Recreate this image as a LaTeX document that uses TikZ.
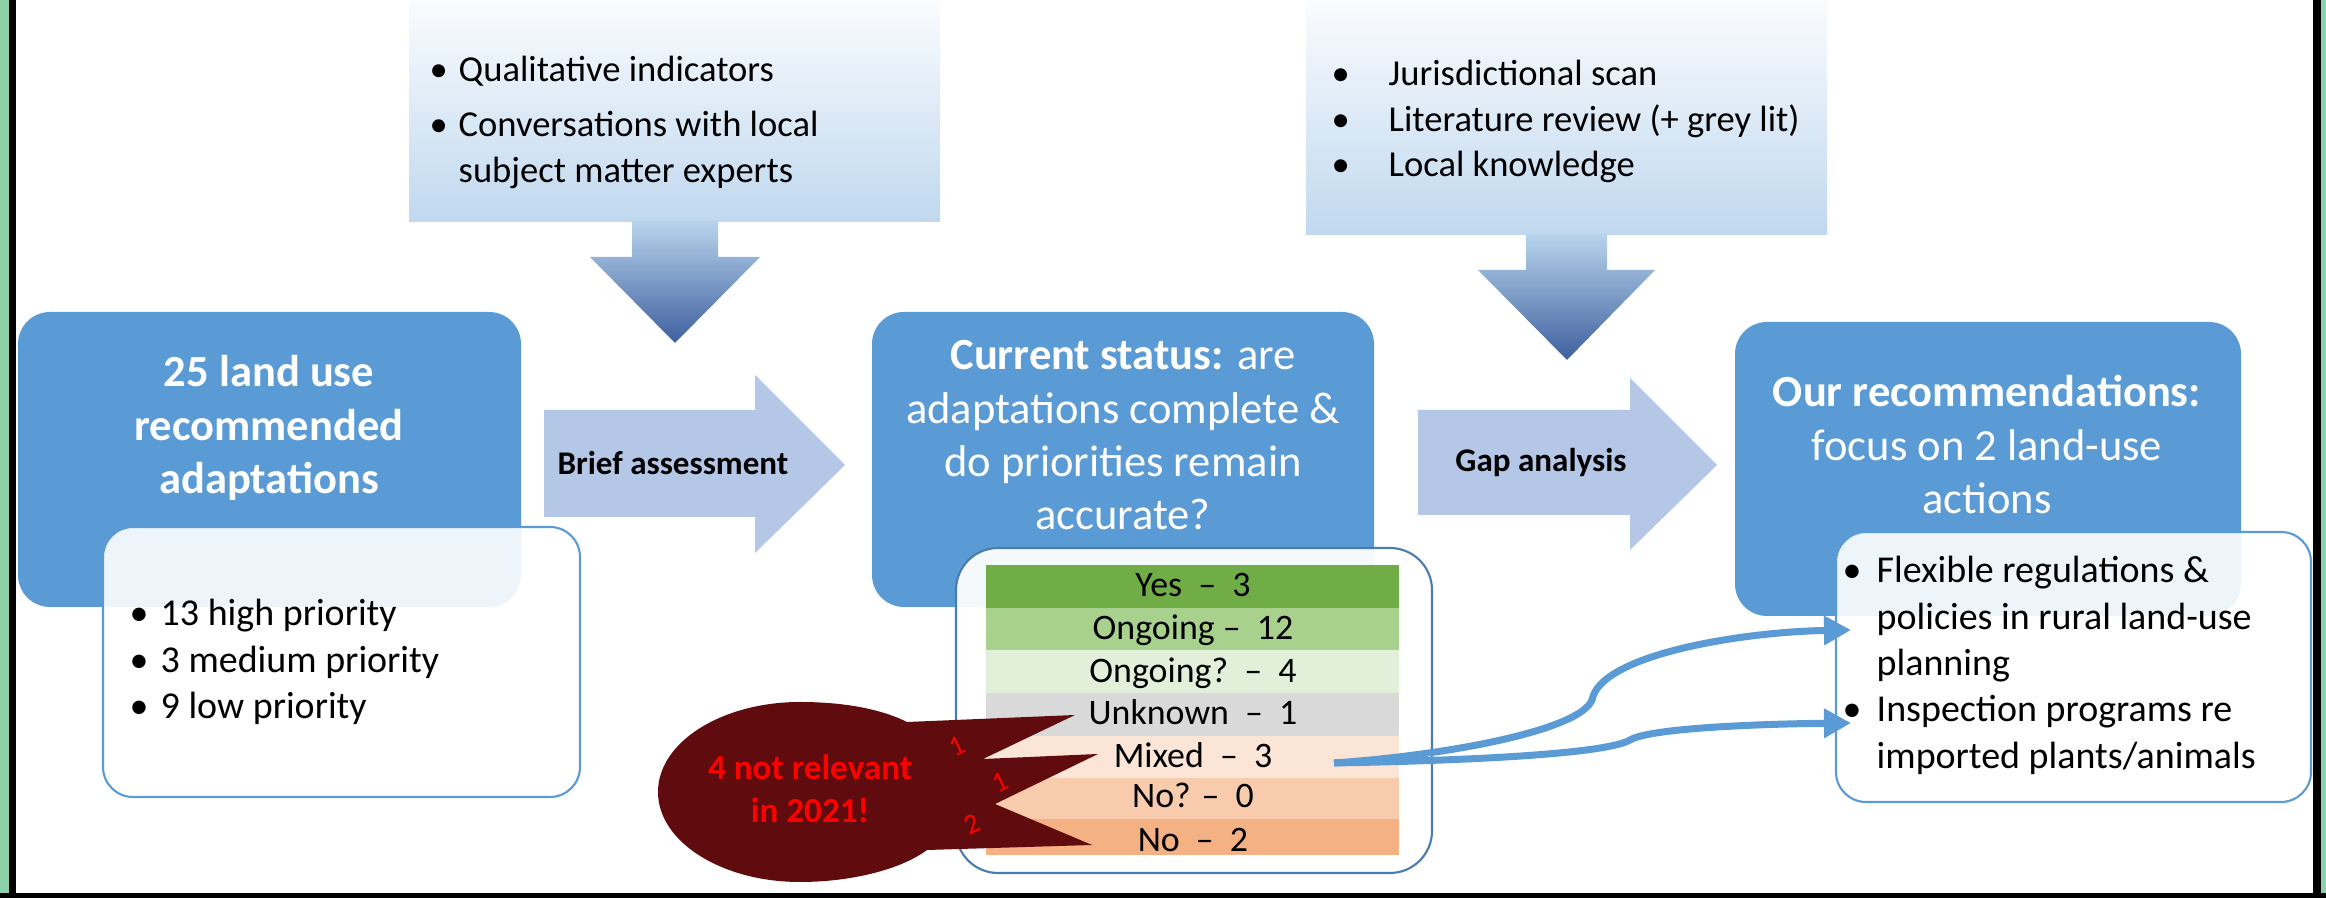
\documentclass[tikz,border=0pt]{standalone}
\usepackage{fontspec}
\setmainfont{Carlito}
\usetikzlibrary{arrows.meta}
\definecolor{frameg}{RGB}{141,209,168}
\definecolor{boxblue}{RGB}{91,155,213}
\definecolor{arrblue}{RGB}{180,199,231}
\definecolor{edgeblue}{RGB}{91,155,213}
\definecolor{edgedark}{RGB}{74,124,176}
\definecolor{topwhite}{RGB}{250,252,254}
\definecolor{toplight}{RGB}{192,216,239}
\definecolor{shaftblue}{RGB}{184,212,237}
\definecolor{tipblue}{RGB}{62,96,158}
\definecolor{cyes}{RGB}{112,173,71}
\definecolor{congo}{RGB}{169,209,142}
\definecolor{congoq}{RGB}{226,240,217}
\definecolor{cunk}{RGB}{217,217,217}
\definecolor{cmix}{RGB}{251,229,214}
\definecolor{cnoq}{RGB}{248,203,173}
\definecolor{cno}{RGB}{244,177,131}
\definecolor{calloutred}{RGB}{96,11,13}
\newcommand\dgap{\hspace{0.45em}}
\begin{document}
\begin{tikzpicture}[x=0.01cm,y=-0.01cm,
  bluebox/.style={fill=boxblue, rounded corners=0.32cm},
  whitebox/.style={draw=edgeblue, line width=0.6pt, fill=white, fill opacity=0.9, rounded corners=0.3cm},
  rightarrow/.style={fill=arrblue},
  titletxt/.style={text=white, font=\fontsize{12.66pt}{15.1pt}\selectfont, inner sep=0pt, anchor=base},
  bodytxt/.style={text=black, font=\fontsize{10.8pt}{13.2pt}\selectfont, inner sep=0pt, anchor=base west},
  toptxt/.style={text=black, font=\fontsize{10.4pt}{13pt}\selectfont, inner sep=0pt, anchor=base west},
  labeltxt/.style={text=black, font=\fontsize{9.4pt}{11pt}\selectfont\bfseries, inner sep=0pt, anchor=base},
  rowtxt/.style={text=black, font=\fontsize{10.2pt}{12pt}\selectfont, inner sep=0pt, anchor=base},
  callouttxt/.style={text=red, font=\fontsize{10pt}{12.2pt}\selectfont\bfseries, inner sep=0pt, anchor=base},
  numtxt/.style={text=red, font=\fontsize{8pt}{9pt}\selectfont, inner sep=0pt, rotate=25},
  conn/.style={draw=boxblue, line width=0.07cm, -{Triangle[length=0.27cm,width=0.28cm]}}
]
\useasboundingbox (0,0) rectangle (2326,898);
% frame
\fill[frameg] (0,0) rectangle (2326,898);
\fill[white] (16,0) rectangle (2313,893);
\fill[black] (9,0) rectangle (16,898);
\fill[black] (2313,0) rectangle (2321,898);
\fill[black] (0,893) rectangle (2326,898);

% top gradient boxes and down arrows
\shade[top color=topwhite, bottom color=toplight] (409,0) rectangle (940,222);
\shade[top color=shaftblue, middle color=shaftblue, bottom color=tipblue]
  (632,221) -- (718,221) -- (718,257) -- (760,257) -- (675,343) -- (590,257) -- (632,257) -- cycle;
\shade[top color=topwhite, bottom color=toplight] (1306,0) rectangle (1827,235);
\shade[top color=shaftblue, middle color=shaftblue, bottom color=tipblue]
  (1526,234) -- (1607,234) -- (1607,270) -- (1655,270) -- (1567,360) -- (1478,270) -- (1526,270) -- cycle;

% horizontal arrows
\fill[rightarrow] (544,410) -- (755,410) -- (755,375) -- (845,465) -- (755,553) -- (755,517) -- (544,517) -- cycle;
\fill[rightarrow] (1418,410) -- (1630,410) -- (1630,378) -- (1717,465) -- (1630,550) -- (1630,515) -- (1418,515) -- cycle;

% blue boxes
\fill[bluebox] (18,312) rectangle (521,607);
\fill[bluebox] (872,312) rectangle (1374,607);
\fill[bluebox] (1735,322) rectangle (2241,616);

% white boxes
\path[whitebox] (103,527) rectangle (580,797);
\path[whitebox, draw=edgedark, rounded corners=0.42cm, fill opacity=0.95] (956,548) rectangle (1432,873);
\path[whitebox] (1836,532) rectangle (2311,802);

% status table
\fill[cyes] (986,565) rectangle (1399,608);
\fill[congo] (986,608) rectangle (1399,650);
\fill[congoq] (986,650) rectangle (1399,693);
\fill[cunk] (986,693) rectangle (1399,736);
\fill[cmix] (986,736) rectangle (1399,778);
\fill[cnoq] (986,778) rectangle (1399,819);
\fill[cno] (986,819) rectangle (1399,855);
\node[rowtxt] (ryes) at (1193,597) {Yes\dgap--\dgap3};
\node[rowtxt] (rongo) at (1193,640) {Ongoing --\dgap12};
\node[rowtxt] (rongoq) at (1193,683) {Ongoing?\dgap--\dgap4};
\node[rowtxt] (runk) at (1193,725) {Unknown\dgap--\dgap1};
\node[rowtxt] (rmix) at (1193,768) {Mixed\dgap--\dgap3};
\node[rowtxt] (rnoq) at (1193,808) {No? --\dgap0};
\node[rowtxt] (rno) at (1193,852) {No\dgap--\dgap2};

% callout
\fill[calloutred] (800,702) .. controls (850,702) and (885,711) .. (907,722)
  -- (1075,715) -- (983,759) -- (1098,754) -- (995,804) -- (1092,845) -- (927,850)
  .. controls (900,870) and (850,882) .. (800,882)
  .. controls (722,882) and (658,842) .. (658,792)
  .. controls (658,742) and (722,702) .. (800,702) -- cycle;
\node[callouttxt] (ctext) at (810,780) {\begin{tabular}[t]{@{}c@{}}4 not relevant\\ in 2021!\end{tabular}};
\node[numtxt] (n1) at (957,746) {1};
\node[numtxt] (n2) at (1000,782) {1};
\node[numtxt] (n3) at (972,824) {2};

% connectors
\coordinate (mixstart) at (1334,763);
\coordinate (tgtone) at (1851,630);
\coordinate (tgttwo) at (1851,723);
\draw[conn] (mixstart) .. controls (1450,755) and (1580,730) .. (1592,700)
  .. controls (1600,655) and (1740,632) .. (tgtone);
\draw[conn] (mixstart) .. controls (1500,760) and (1610,752) .. (1630,740)
  .. controls (1650,728) and (1760,724) .. (tgttwo);

% titles
\node[titletxt] (title1) at (269,387) {\begin{tabular}[t]{@{}c@{}}\bfseries 25 land use\\ \bfseries recommended\\ \bfseries adaptations\end{tabular}};
\node[titletxt] (title2) at (1123,370) {\begin{tabular}[t]{@{}c@{}}\textbf{Current status:} are\\ adaptations complete \&\\ do priorities remain\\ accurate?\end{tabular}};
\node[titletxt] (title3) at (1987,407) {\begin{tabular}[t]{@{}c@{}}\textbf{Our recommendations:}\\ focus on 2 land-use\\ actions\end{tabular}};

% arrow labels
\node[labeltxt] (brief) at (673,475) {Brief assessment};
\node[labeltxt] (gap) at (1541,472) {Gap analysis};

% top-left list
\node[toptxt] (tlb1) at (429,82) {\textbullet};
\node[toptxt] (tl1) at (458,82) {Qualitative indicators};
\node[toptxt] (tlb2) at (429,137) {\textbullet};
\node[toptxt] (tl2) at (458,137) {\begin{tabular}[t]{@{}l@{}}Conversations with local\\ subject matter experts\end{tabular}};

% top-right list
\node[toptxt] (trb1) at (1331,86) {\textbullet};
\node[toptxt] (tr1) at (1388,86) {Jurisdictional scan};
\node[toptxt] (trb2) at (1331,132) {\textbullet};
\node[toptxt] (tr2) at (1388,132) {Literature review (+ grey lit)};
\node[toptxt] (trb3) at (1331,177) {\textbullet};
\node[toptxt] (tr3) at (1388,177) {Local knowledge};

% left list
\node[bodytxt] (lb1) at (129,626) {\textbullet};
\node[bodytxt] (l1) at (160,626) {13 high priority};
\node[bodytxt] (lb2) at (129,673) {\textbullet};
\node[bodytxt] (l2) at (160,673) {3 medium priority};
\node[bodytxt] (lb3) at (129,719) {\textbullet};
\node[bodytxt] (l3) at (160,719) {9 low priority};

% right list
\node[bodytxt] (rb1) at (1842,583) {\textbullet};
\node[bodytxt] (r1) at (1876,583) {\begin{tabular}[t]{@{}l@{}}Flexible regulations \&\\ policies in rural land-use\\ planning\end{tabular}};
\node[bodytxt] (rb2) at (1842,722) {\textbullet};
\node[bodytxt] (r2) at (1876,722) {\begin{tabular}[t]{@{}l@{}}Inspection programs re\\ imported plants/animals\end{tabular}};
\end{tikzpicture}
\end{document}
